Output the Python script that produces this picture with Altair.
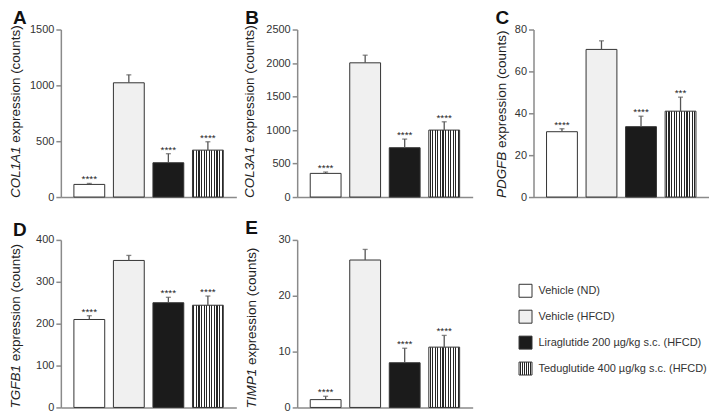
import altair as alt
import pandas as pd

groups = ["Vehicle (ND)", "Vehicle (HFCD)",
          "Liraglutide 200 µg/kg s.c. (HFCD)", "Teduglutide 400 µg/kg s.c. (HFCD)"]
solid_fills = ["#ffffff", "#f0f0f0", "#1b1b1b"]

col1a1_mean = [113, 1023, 307, 420]
col1a1_sem = [9, 71, 81, 75]
col1a1_sig = ["****", "", "****", "****"]

col3a1_mean = [353, 2003, 736, 999]
col3a1_sem = [20, 114, 129, 124]
col3a1_sig = ["****", "", "****", "****"]

pdgfb_mean = [31.2, 70.5, 33.6, 41.0]
pdgfb_sem = [1.4, 4.1, 5.0, 6.7]
pdgfb_sig = ["****", "", "****", "***"]

tgfb1_mean = [210, 351, 250, 244]
tgfb1_sem = [9, 12, 13, 22]
tgfb1_sig = ["****", "", "****", "****"]

timp1_mean = [1.4, 26.4, 8.0, 10.8]
timp1_sem = [0.6, 1.9, 2.6, 2.1]
timp1_sig = ["****", "", "****", "****"]

W, H = 176, 168
FONT = "Liberation Sans"
AXIS_GRAY = "#8a8a8a"
TITLE_SIZE = 13.5


def stripes(n, dark="#262626", light="#ffffff", frac=0.45):
    stops = [alt.GradientStop(offset=0, color=light)]
    for i in range(n):
        a = (i + 0.3) / n
        b = (i + 0.3 + frac) / n
        stops += [alt.GradientStop(offset=a, color=light),
                  alt.GradientStop(offset=a, color=dark),
                  alt.GradientStop(offset=min(b, 1), color=dark),
                  alt.GradientStop(offset=min(b, 1), color=light)]
    stops.append(alt.GradientStop(offset=1, color=light))
    return alt.LinearGradient(gradient="linear", stops=stops, x1=0, x2=1, y1=0, y2=0)


def panel(letter, gene, gene_em, means, sems, sigs, ymax, ystep, title_x, letter_x, letter_y):
    df = pd.DataFrame({"group": groups, "mean": means,
                       "upper": [m + s for m, s in zip(means, sems)], "sig": sigs})
    x = alt.X("group:N", sort=groups,
              scale=alt.Scale(domain=groups, paddingInner=0.22, paddingOuter=0.33),
              axis=alt.Axis(labels=False, ticks=False, title=None, domainColor=AXIS_GRAY,
                            domainWidth=1.5))
    yscale = alt.Scale(domain=[0, ymax], nice=False)
    yaxis = alt.Axis(values=list(range(0, ymax + 1, ystep)), format="d", title=None,
                     grid=False, domainColor=AXIS_GRAY, domainWidth=1.5,
                     tickColor=AXIS_GRAY, tickWidth=1.5, tickSize=5, labelFontSize=11,
                     labelColor="#333333", labelPadding=2, labelFont=FONT,
                     labelOverlap=False)

    def Y(field):
        return alt.Y(f"{field}:Q", scale=yscale, axis=yaxis)

    base = alt.Chart(df)
    bars = base.transform_filter(alt.datum.group != groups[3]).mark_bar(
        stroke="#333333", strokeWidth=1).encode(
        x=x, y=Y("mean"),
        fill=alt.Fill("group:N", scale=alt.Scale(domain=groups[:3], range=solid_fills), legend=None))
    striped = base.transform_filter(alt.datum.group == groups[3]).mark_bar(
        stroke="#333333", strokeWidth=1, fill=stripes(12)).encode(x=x, y=Y("mean"))
    err = base.mark_rule(color="#555555", strokeWidth=1.3).encode(
        x=x, y=Y("mean"), y2="upper:Q")
    cap = base.mark_tick(color="#555555", size=5, thickness=1.3).encode(x=x, y=Y("upper"))
    stars = base.mark_text(fontSize=10, dy=-1, baseline="alphabetic", font=FONT,
                           color="#222222").encode(x=x, y=Y("upper"), text="sig:N")
    one = alt.Chart(pd.DataFrame({"k": [0]}))
    letter_t = one.mark_text(fontSize=19, fontWeight="bold", align="left", baseline="top",
                             font=FONT, color="#111111").encode(
        x=alt.value(letter_x), y=alt.value(letter_y), text=alt.value(letter))
    gene_t = one.mark_text(angle=270, align="left", baseline="middle", fontSize=TITLE_SIZE,
                           fontStyle="italic", font=FONT, color="#222222").encode(
        x=alt.value(title_x), y=alt.value(H + 1), text=alt.value(gene))
    rest_t = one.mark_text(angle=270, align="left", baseline="middle", fontSize=TITLE_SIZE,
                           font=FONT, color="#222222").encode(
        x=alt.value(title_x), y=alt.value(H + 1 - (gene_em + 0.278) * TITLE_SIZE),
        text=alt.value("expression (counts)"))
    return alt.layer(bars, striped, err, cap, stars, letter_t, gene_t, rest_t).properties(
        width=W, height=H)


pa = panel("A", "COL1A1", 3.835, col1a1_mean, col1a1_sem, col1a1_sig, 1500, 500, -45, -48, -21)
pb = panel("B", "COL3A1", 3.835, col3a1_mean, col3a1_sem, col3a1_sig, 2500, 500, -47, -52, -21)
pc = panel("C", "PDGFB", 3.445, pdgfb_mean, pdgfb_sem, pdgfb_sig, 80, 20, -32, -38, -21)
pd_ = panel("D", "TGFB1", 3.223, tgfb1_mean, tgfb1_sem, tgfb1_sig, 400, 100, -45, -48, -19)
pe = panel("E", "TIMP1", 2.945, timp1_mean, timp1_sem, timp1_sig, 30, 10, -45, -52, -21)

leg_df = pd.DataFrame({"group": groups})
ly = alt.Y("group:N", sort=groups,
           scale=alt.Scale(domain=groups, range=[51, 129], padding=0), axis=None)
leg_base = alt.Chart(leg_df)
leg_solid = leg_base.transform_filter(alt.datum.group != groups[3]).mark_point(
    shape="square", size=169, filled=True, stroke="#333333", strokeWidth=1, opacity=1).encode(
    x=alt.value(-8), y=ly,
    fill=alt.Fill("group:N", scale=alt.Scale(domain=groups[:3], range=solid_fills), legend=None))
leg_str = leg_base.transform_filter(alt.datum.group == groups[3]).mark_point(
    shape="square", size=169, filled=True, stroke="#333333", strokeWidth=1, opacity=1,
    fill=stripes(6)).encode(x=alt.value(-8), y=ly)
leg_text = leg_base.mark_text(align="left", baseline="middle", fontSize=11, font=FONT,
                              color="#333333").encode(x=alt.value(5), y=ly, text="group:N")
legend = alt.layer(leg_solid, leg_str, leg_text).properties(width=W, height=H)

row1 = alt.hconcat(pa, pb, pc, spacing=61, bounds="flush")
row2 = alt.hconcat(pd_, pe, legend, spacing=61, bounds="flush")
chart = alt.vconcat(row1, row2, spacing=17).properties(padding=0) \
    .configure_view(stroke=None).configure_axis(labelFont=FONT)

chart.save("out.html", embed_options={"renderer": "svg", "actions": False})
